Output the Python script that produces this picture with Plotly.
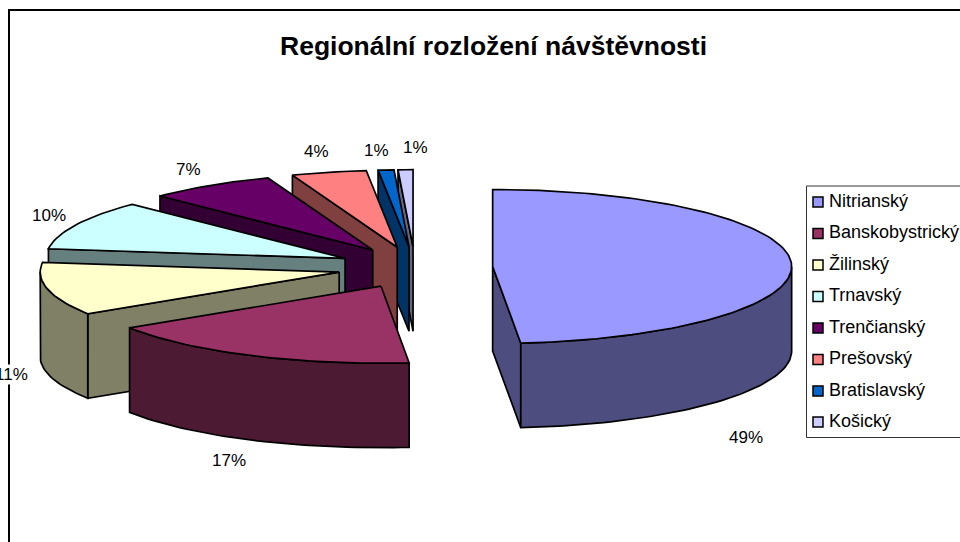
import math
import plotly.graph_objects as go

TITLE = "Regionální rozložení návštěvnosti"
categories = ["Nitrianský", "Banskobystrický", "Žilinský", "Trnavský",
              "Trenčianský", "Prešovský", "Bratislavský", "Košický"]
values = [48.5, 17.4, 11.1, 10.4, 6.9, 4.05, 0.85, 0.8]
top_colors = ["#9999FF", "#993366", "#FFFFCC", "#CCFFFF",
              "#660066", "#FF8080", "#0066CC", "#CCCCFF"]
side_colors = ["#4D4D80", "#4D1A33", "#808066", "#668080",
               "#330033", "#804040", "#003366", "#666680"]

# pie geometry (pixels, oblique projection)
CX, CY = 415.0, 267.5
RX, RY = 299.0, 77.0
DEPTH = 84.5
EXPLODE_X, EXPLODE_Y = 0.26, 0.27
FONT = "Liberation Sans, Arial, sans-serif"
LABEL_XY = [(746, 437), (229, 460), (11, 374), (49, 215),
            (188, 169), (316, 151), (376, 150), (415, 147)]
LEGEND_X, LEGEND_TEXT_X = 818, 829
LEGEND_YS = [202, 233.5, 265, 296.5, 328, 359.5, 391, 422]


def pt(c, ang, r=1.0):
    a = math.radians(ang)
    return c[0] + r * RX * math.sin(a), c[1] - r * RY * math.cos(a)


def arc(c, a0, a1):
    n = max(2, int(abs(a1 - a0) / 1.5) + 2)
    return [pt(c, a0 + (a1 - a0) * i / (n - 1)) for i in range(n)]


def poly(points, fill, name):
    xs = [p[0] for p in points] + [points[0][0]]
    ys = [p[1] for p in points] + [points[0][1]]
    return go.Scatter(x=xs, y=ys, mode="lines", fill="toself", fillcolor=fill,
                      line=dict(color="black", width=1.7), name=name,
                      hoverinfo="name", showlegend=False)


def down(points):
    return [(x, y + DEPTH) for x, y in points]


fig = go.Figure()

total = sum(values)
angles = [0.0]
for v in values:
    angles.append(angles[-1] + v / total * 360.0)

# painter's order: back slices first, the large first slice is apart
for i in [7, 6, 5, 4, 3, 2, 1, 0]:
    a0, a1 = angles[i], angles[i + 1]
    mid = math.radians((a0 + a1) / 2)
    c = (CX + EXPLODE_X * RX * math.sin(mid), CY - EXPLODE_Y * RY * math.cos(mid))
    name, top, side = categories[i], top_colors[i], side_colors[i]
    # radial face on the visible side
    if math.sin(math.radians(a0)) < 0:
        p = pt(c, a0)
        fig.add_trace(poly([c, p, (p[0], p[1] + DEPTH), (c[0], c[1] + DEPTH)], side, name))
    if math.sin(math.radians(a1)) > 0:
        p = pt(c, a1)
        fig.add_trace(poly([c, p, (p[0], p[1] + DEPTH), (c[0], c[1] + DEPTH)], side, name))
    # front rim
    f0, f1 = max(a0, 90.0), min(a1, 270.0)
    if f1 > f0:
        rim = arc(c, f0, f1)
        fig.add_trace(poly(rim + down(rim)[::-1], side, name))
    # top face
    fig.add_trace(poly([c] + arc(c, a0, a1), top, name))

# legend swatches and names
fig.add_trace(go.Scatter(
    x=[LEGEND_X] * len(categories), y=LEGEND_YS, mode="markers",
    marker=dict(symbol="square", size=10, color=top_colors,
                line=dict(color="black", width=1.5)),
    text=categories, hoverinfo="text", showlegend=False, cliponaxis=False))
fig.add_trace(go.Scatter(
    x=[LEGEND_TEXT_X] * len(categories), y=LEGEND_YS, mode="text",
    text=categories, textposition="middle right",
    textfont=dict(family=FONT, size=18, color="black"),
    hoverinfo="text", showlegend=False, cliponaxis=False))

annotations = [
    dict(x=x, y=y, text=f"{int(v + 0.5)}%", showarrow=False, xref="x", yref="y",
         font=dict(family=FONT, size=17, color="black"),
         bgcolor="white" if i == 2 else None, borderpad=0)
    for i, (v, (x, y)) in enumerate(zip(values, LABEL_XY))
]
annotations.append(dict(x=493.5, y=45.5, text=f"<b>{TITLE}</b>", showarrow=False,
                        xref="x", yref="y",
                        font=dict(family=FONT, size=26.5, color="black")))

shapes = [
    dict(type="line", x0=9, x1=9, y0=10, y1=542, xref="x", yref="y",
         line=dict(color="black", width=2), layer="below"),
    dict(type="line", x0=8, x1=960, y0=10, y1=10, xref="x", yref="y",
         line=dict(color="black", width=2), layer="below"),
    dict(type="rect", x0=806.5, x1=975, y0=186, y1=437.5, xref="x", yref="y",
         line=dict(color="#333333", width=1), fillcolor="white", layer="below"),
]

fig.update_layout(
    width=960, height=542, margin=dict(l=0, r=0, t=0, b=0),
    paper_bgcolor="white", plot_bgcolor="white", showlegend=False,
    xaxis=dict(range=[0, 960], visible=False, fixedrange=True),
    yaxis=dict(range=[542, 0], visible=False, fixedrange=True),
    annotations=annotations, shapes=shapes,
)
fig.write_html("out.html", config={"displayModeBar": False},
               post_script="document.body.style.margin='0';document.body.style.overflow='hidden';")
